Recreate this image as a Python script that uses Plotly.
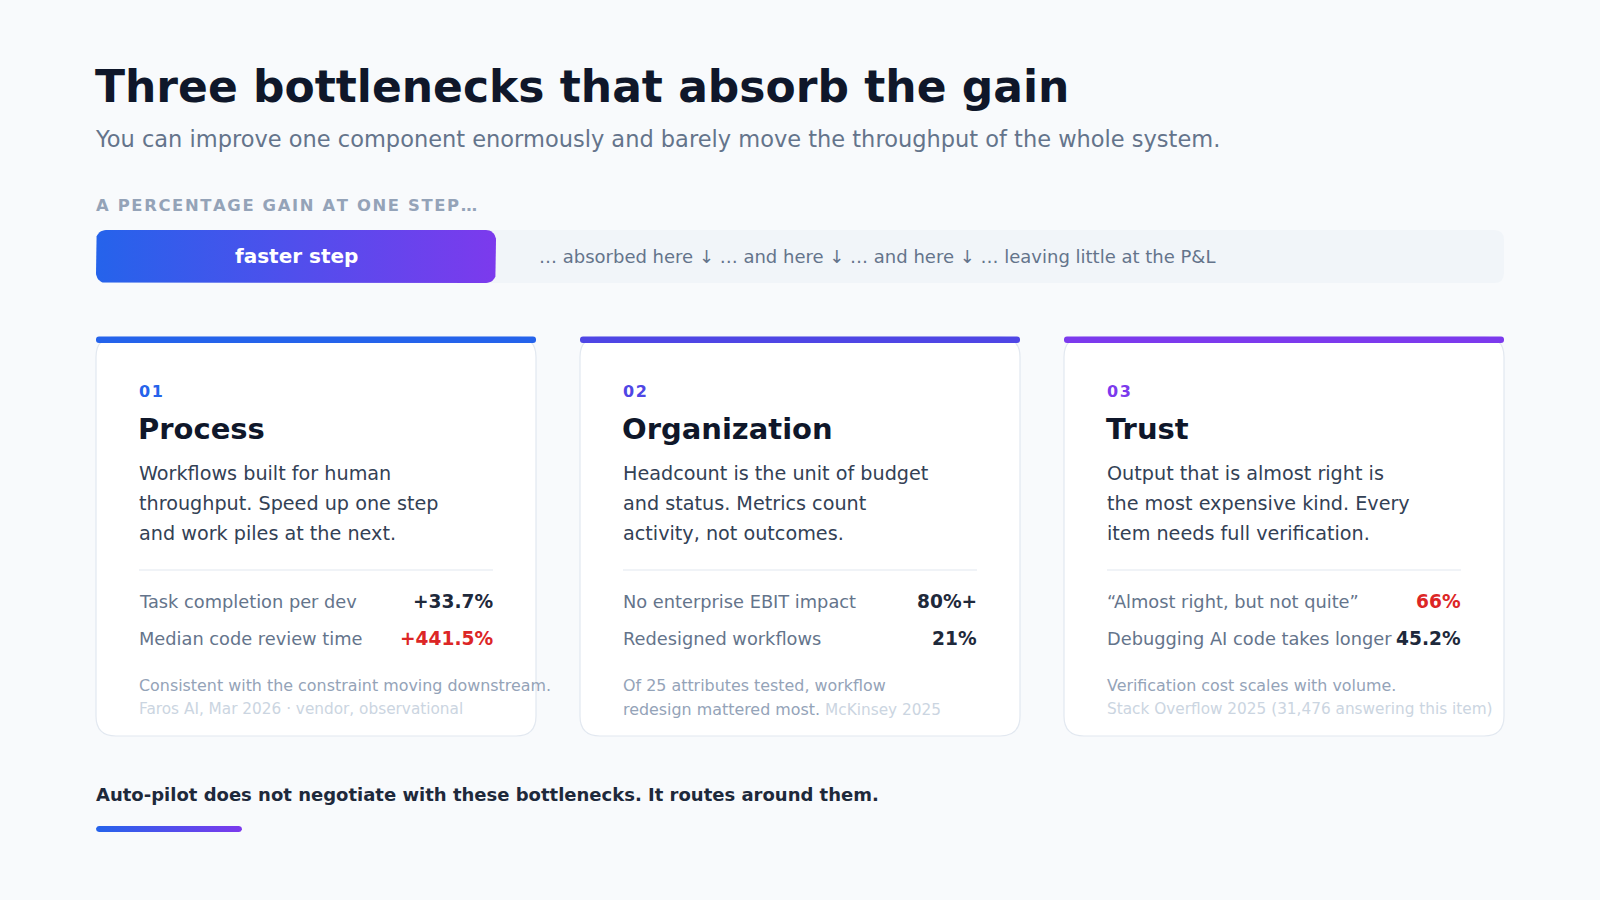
import numpy as np
import plotly.graph_objects as go

# ---- content ----
TITLE = "Three bottlenecks that absorb the gain"
SUBTITLE = "You can improve one component enormously and barely move the throughput of the whole system."
KICKER = "A PERCENTAGE GAIN AT ONE STEP…"
STEP_LABEL = "faster step"
FLOW_TEXT = "… absorbed here ↓ … and here ↓ … and here ↓ … leaving little at the P&amp;L"
FOOTER = "Auto-pilot does not negotiate with these bottlenecks. It routes around them."

CARD_NUMS = ["01", "02", "03"]
CARD_TITLES = ["Process", "Organization", "Trust"]
CARD_TEXT = [
    "Workflows built for human\nthroughput. Speed up one step\nand work piles at the next.",
    "Headcount is the unit of budget\nand status. Metrics count\nactivity, not outcomes.",
    "Output that is almost right is\nthe most expensive kind. Every\nitem needs full verification.",
]
STAT_LABELS = [
    ["Task completion per dev", "Median code review time"],
    ["No enterprise EBIT impact", "Redesigned workflows"],
    ["“Almost right, but not quite”", "Debugging AI code takes longer"],
]
STAT_VALUES = [["+33.7%", "+441.5%"], ["80%+", "21%"], ["66%", "45.2%"]]
STAT_ALERT = [[False, True], [False, False], [True, False]]
NOTES = [
    "Consistent with the constraint moving downstream.",
    "Of 25 attributes tested, workflow\nredesign mattered most.",
    "Verification cost scales with volume.",
]
SOURCES = ["Faros AI, Mar 2026 · vendor, observational", "McKinsey 2025",
           "Stack Overflow 2025 (31,476 answering this item)"]
SOURCE_INLINE = [False, True, False]

ACCENTS = ["#2563eb", "#4f46e5", "#7c3aed"]
FONT = "DejaVu Sans"
BG = "#f8fafc"
W, H = 1600, 900
LEFT, RIGHT = 96, 1504


def rrect_path(x0, y0, x1, y1, r):
    return (f"M {x0+r},{y0} L {x1-r},{y0} Q {x1},{y0} {x1},{y0+r} "
            f"L {x1},{y1-r} Q {x1},{y1} {x1-r},{y1} L {x0+r},{y1} "
            f"Q {x0},{y1} {x0},{y1-r} L {x0},{y0+r} Q {x0},{y0} {x0+r},{y0} Z")


def rrect_pts(x0, y0, x1, y1, r, n=10):
    xs, ys = [], []
    for cx, cy, a0 in [(x1 - r, y0 + r, 270), (x1 - r, y1 - r, 0),
                       (x0 + r, y1 - r, 90), (x0 + r, y0 + r, 180)]:
        t = np.radians(np.linspace(a0, a0 + 90, n))
        xs += list(cx + r * np.cos(t))
        ys += list(cy + r * np.sin(t))
    return xs + xs[:1], ys + ys[:1]


def gradient_box(fig, x0, y0, x1, y1, r):
    xs, ys = rrect_pts(x0, y0, x1, y1, r)
    fig.add_trace(go.Scatter(
        x=xs, y=ys, mode="lines", fill="toself", line=dict(width=0),
        fillgradient=dict(type="horizontal",
                          colorscale=[[0, "#2563eb"], [1, "#7c3aed"]]),
        hoverinfo="skip", showlegend=False))


def spaced(s):
    return "\u200a".join(s)


fig = go.Figure()
shapes = []
ann = []


def text(x, y, s, size, color, bold=False, anchor="left"):
    ann.append(dict(x=x, y=y, xref="x", yref="y", text=s, showarrow=False,
                    xanchor=anchor, yanchor="middle",
                    font=dict(family=FONT, size=size, color=color,
                              weight="bold" if bold else "normal")))


# header
text(LEFT - 3, 86, TITLE, 44, "#0f172a", bold=True)
text(LEFT - 3, 139, SUBTITLE, 22.5, "#64748b")
text(LEFT - 2, 205, spaced(KICKER), 16.4, "#94a3b8", bold=True)

# flow bar
shapes.append(dict(type="path", path=rrect_path(LEFT, 230, RIGHT, 283, 10),
                   fillcolor="#f1f5f9", line=dict(width=0), layer="below"))
gradient_box(fig, LEFT, 230, 496, 283, 10)
text(296, 256, STEP_LABEL, 20, "#ffffff", bold=True, anchor="center")
text(537, 256, FLOW_TEXT, 18, "#64748b")

# cards
card_w, gap, pad = 440, 44, 43
top, bottom = 337, 736
for i in range(3):
    x0 = LEFT + i * (card_w + gap)
    x1 = x0 + card_w
    cl, cr = x0 + pad, x1 - pad
    shapes.append(dict(type="path", path=rrect_path(x0, top, x1, bottom, 20),
                       fillcolor="#ffffff", line=dict(color="#e2e8f0", width=1.2),
                       layer="below"))
    shapes.append(dict(type="path", path=rrect_path(x0, top - 0.5, x1, top + 6, 3),
                       fillcolor=ACCENTS[i], line=dict(width=0)))
    text(cl - 2, 391, spaced(CARD_NUMS[i]), 16, ACCENTS[i], bold=True)
    text(cl - 3, 429, CARD_TITLES[i], 29, "#0f172a", bold=True)
    for k, line in enumerate(CARD_TEXT[i].split("\n")):
        text(cl - 2, 473 + 30 * k, line, 19.2, "#334155")
    shapes.append(dict(type="line", x0=cl, x1=cr, y0=570, y1=570,
                       line=dict(color="#e2e8f0", width=1.2)))
    for k in range(2):
        yy = 601 + 37 * k
        text(cl - 2, yy, STAT_LABELS[i][k], 17.8, "#64748b")
        text(cr + 2, yy, STAT_VALUES[i][k], 18.6,
             "#dc2626" if STAT_ALERT[i][k] else "#1e293b", bold=True, anchor="right")
    lines = NOTES[i].split("\n")
    src = f"<span style='color:#cbd5e1;font-size:15.3px'>{SOURCES[i]}</span>"
    if SOURCE_INLINE[i]:
        lines[-1] = lines[-1] + " " + src
    else:
        lines.append(src)
    for k, line in enumerate(lines):
        text(cl - 2, 685 + 24 * k, line, 15.9, "#94a3b8")

# footer
text(LEFT - 2, 794, FOOTER, 18, "#1e293b", bold=True)
gradient_box(fig, LEFT, 826, 242, 832, 3)

fig.update_layout(
    width=W, height=H, margin=dict(l=0, r=0, t=0, b=0),
    paper_bgcolor=BG, plot_bgcolor=BG,
    xaxis=dict(range=[0, W], visible=False, fixedrange=True),
    yaxis=dict(range=[H, 0], visible=False, fixedrange=True),
    shapes=shapes, annotations=ann, showlegend=False,
)

fig.write_html("out.html", config={"displayModeBar": False},
               post_script=f"document.body.style.margin='0';document.body.style.background='{BG}';")
